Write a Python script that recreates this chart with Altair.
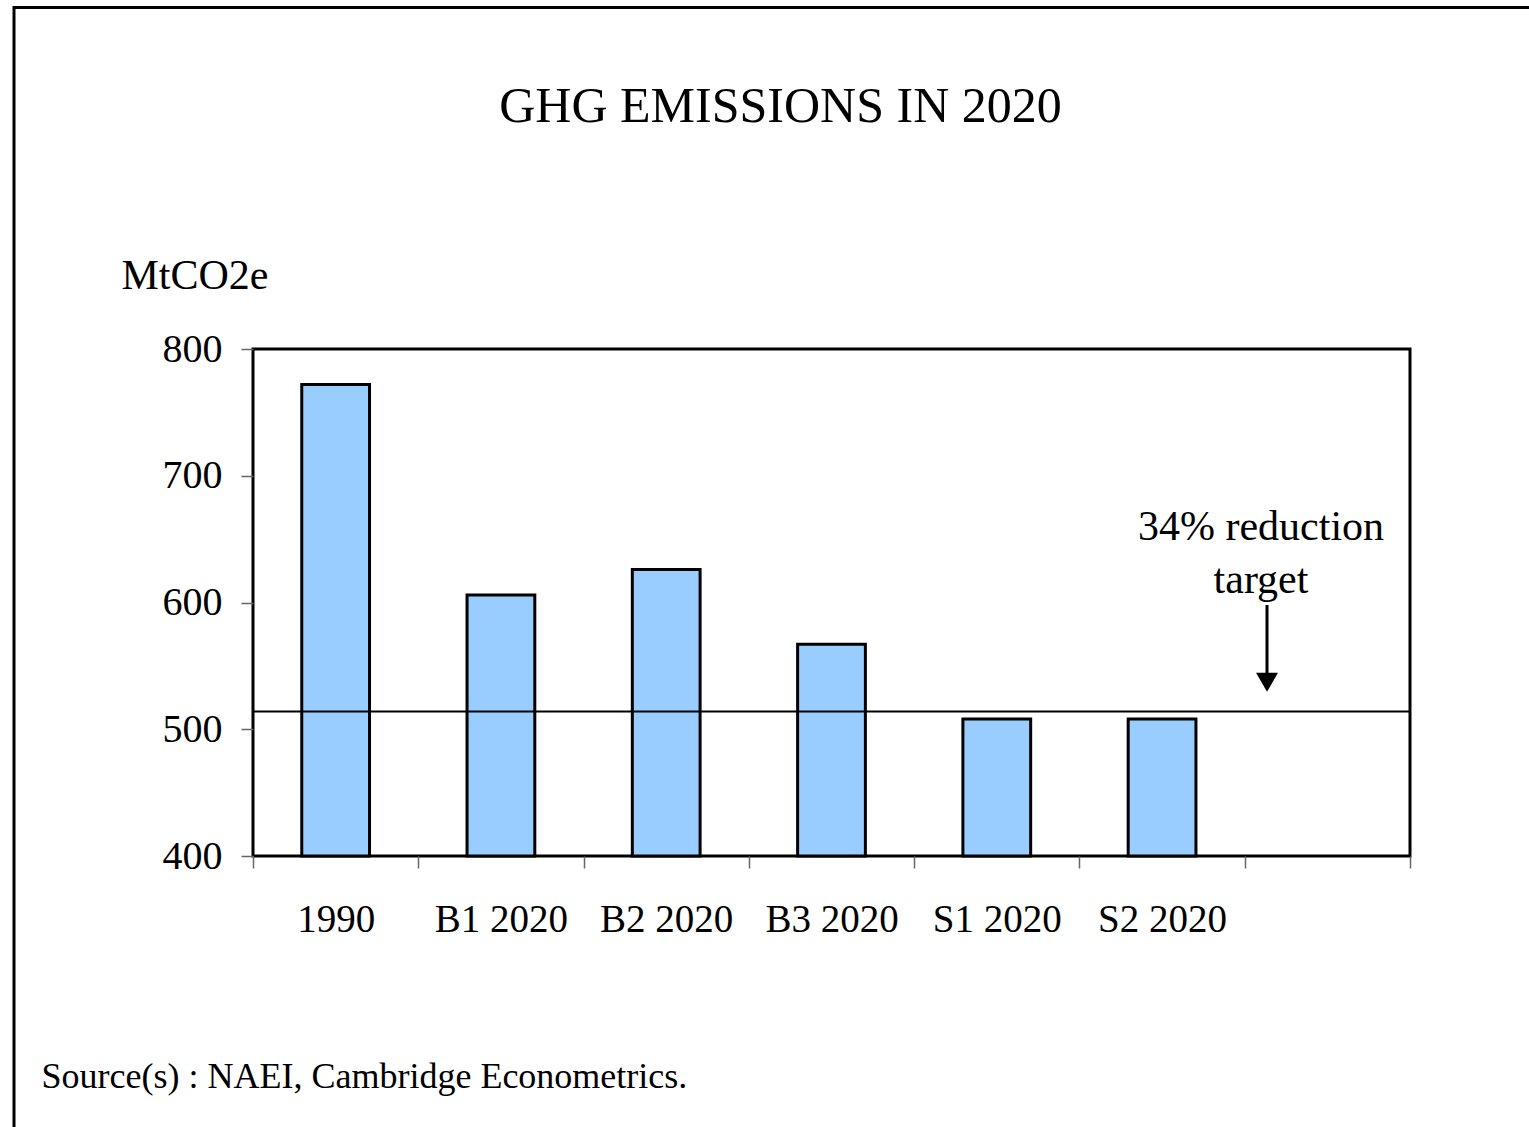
import altair as alt
import pandas as pd

# ---- data ----
categories = ["1990", "B1 2020", "B2 2020", "B3 2020", "S1 2020", "S2 2020"]
emissions = [772, 606, 626, 567, 508, 508]
axis_slots = categories + [" "]          # empty 7th slot on the axis
y_ticks = [400, 500, 600, 700, 800]
y_base = 400
target_value = 514
annotation_lines = ["34% reduction", "target"]
annotation_top = 675      # data value at top of annotation text
arrow_top = 598
arrow_end = 540
arrowhead_y = 537

FONT = "Liberation Serif"
W, H = 1157, 507
LEFT, TOP = 253, 349
ANN_X = 1008
ARROW_X = 1014

ydom = alt.Scale(domain=[400, 800], nice=False, zero=False)

bars_df = pd.DataFrame({"scenario": categories, "emissions": emissions})

bars = alt.Chart(bars_df).mark_bar(
    width=alt.RelativeBandSize(0.41), color="#99CCFF", stroke="black", strokeWidth=3
).encode(
    x=alt.X(
        "scenario:N",
        sort=axis_slots,
        scale=alt.Scale(domain=axis_slots, paddingInner=0, paddingOuter=0),
        axis=alt.Axis(
            tickBand="extent", tickSize=12, tickColor="#666666", tickWidth=1.5,
            labelAngle=0, labelFontSize=39, labelColor="black", labelPadding=32,
            domain=False, grid=False,
            title="Source(s) : NAEI, Cambridge Econometrics.",
            titleX=-212, titleY=231, titleAlign="left", titleBaseline="alphabetic",
            titleFontSize=36, titleFontWeight="normal", titleColor="black",
        ),
    ),
    y=alt.Y(
        "emissions:Q",
        scale=ydom,
        axis=alt.Axis(
            values=y_ticks, tickSize=12, tickColor="#666666", tickWidth=1.5,
            labelFontSize=40, labelColor="black", labelPadding=19,
            domain=False, grid=False,
            title="MtCO2e", titleAngle=0, titleX=-132, titleY=-61,
            titleAlign="left", titleBaseline="alphabetic",
            titleFontSize=42, titleFontWeight="normal", titleColor="black",
        ),
    ),
    y2=alt.datum(y_base),
)

target = alt.Chart(pd.DataFrame({"t": [target_value]})).mark_rule(
    color="black", strokeWidth=2
).encode(y=alt.Y("t:Q", scale=ydom, axis=None))

ann = alt.Chart(pd.DataFrame({"v": [annotation_top]})).mark_text(
    text=annotation_lines, fontSize=42, lineHeight=53, baseline="top", align="center",
    color="black", font=FONT
).encode(x=alt.value(ANN_X), y=alt.Y("v:Q", scale=ydom, axis=None))

arrow = alt.Chart(pd.DataFrame({"a": [arrow_top], "b": [arrow_end]})).mark_rule(
    color="black", strokeWidth=3
).encode(x=alt.value(ARROW_X), y=alt.Y("a:Q", scale=ydom, axis=None), y2="b:Q")

head = alt.Chart(pd.DataFrame({"h": [arrowhead_y]})).mark_point(
    shape="triangle-down", filled=True, size=480, color="black", opacity=1
).encode(x=alt.value(ARROW_X), y=alt.Y("h:Q", scale=ydom, axis=None))

frame = alt.Chart(pd.DataFrame({"f": [0]})).mark_rect(
    filled=False, stroke="black", strokeWidth=3
).encode(
    x=alt.value(14 - LEFT), x2=alt.value(1529 - LEFT + 30),
    y=alt.value(7.5 - TOP), y2=alt.value(1127 - TOP + 30),
)

chart = alt.layer(frame, bars, target, ann, arrow, head).resolve_axis(
    y="independent"
).properties(
    width=W, height=H,
    autosize=alt.AutoSizeParams(type="none"),
    padding={"left": LEFT, "top": TOP, "right": 1529 - LEFT - W, "bottom": 1127 - TOP - H},
    title=alt.TitleParams(
        "GHG EMISSIONS IN 2020", fontSize=50, font=FONT, fontWeight="normal",
        color="black", anchor="middle", frame="group", dx=-51, offset=-166,
        baseline="alphabetic",
    ),
).configure(font=FONT).configure_view(
    stroke="black", strokeWidth=3
).configure_axis(labelFont=FONT, titleFont=FONT)

chart.save("out.html", embed_options={"renderer": "svg", "actions": False})
